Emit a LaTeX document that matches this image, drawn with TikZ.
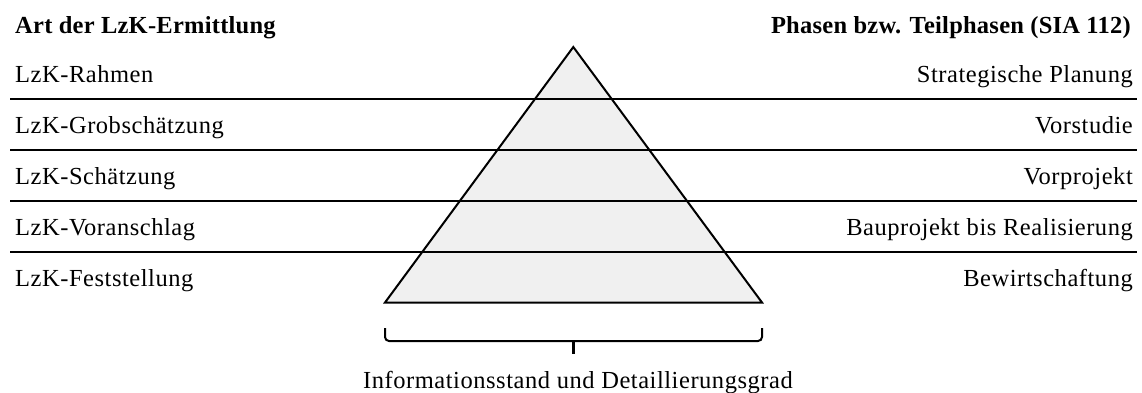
\documentclass[tikz,border=0pt]{standalone}
\usepackage{fontspec}
\setmainfont{Liberation Serif}[LetterSpace=2.2]
\definecolor{pyrfill}{gray}{0.94}
\begin{document}
\begin{tikzpicture}[x=1pt,y=-1pt,
  txt/.style={inner sep=0pt, font=\fontsize{24.5}{29}\selectfont},
  head/.style={txt, font=\fontsize{24.5}{29}\selectfont\bfseries\addfontfeature{LetterSpace=1}},
  rule/.style={line width=2pt},
  pyr/.style={line width=2pt, fill=pyrfill, line join=miter},
  brace/.style={line width=2pt, rounded corners=4pt}]
\useasboundingbox (0,0) rectangle (1142,392);

% pyramid
\coordinate (apex) at (573.3,47);
\coordinate (bl) at (385,302.5);
\coordinate (br) at (762,302.5);
\draw[pyr] (apex) -- (br) -- (bl) -- cycle;

% row separators
\foreach \y [count=\i] in {98.5,149.5,200.5,251.5} {
  \coordinate (l\i) at (10,\y);
  \coordinate (r\i) at (1137,\y);
  \draw[rule] (l\i) -- (r\i);
}

% headings
\node[head, anchor=base west] (hl) at (15,33) {Art der LzK-Ermittlung};
\node[head, anchor=base east] (hr) at (1131,33) {Phasen bzw. Teilphasen (SIA 112)};

% left column
\node[txt, anchor=base west] (a1) at (15,82)  {LzK-Rahmen};
\node[txt, anchor=base west] (a2) at (15,133) {LzK-Grobschätzung};
\node[txt, anchor=base west] (a3) at (15,184) {LzK-Schätzung};
\node[txt, anchor=base west] (a4) at (15,235) {LzK-Voranschlag};
\node[txt, anchor=base west] (a5) at (15,286) {LzK-Feststellung};

% right column
\node[txt, anchor=base east] (b1) at (1133,82)  {Strategische Planung};
\node[txt, anchor=base east] (b2) at (1133,133) {Vorstudie};
\node[txt, anchor=base east] (b3) at (1133,184) {Vorprojekt};
\node[txt, anchor=base east] (b4) at (1133,235) {Bauprojekt bis Realisierung};
\node[txt, anchor=base east] (b5) at (1133,286) {Bewirtschaftung};

% brace under the base
\coordinate (bra) at (385,328);
\coordinate (brb) at (762,328);
\coordinate (brm) at (573.5,341);
\coordinate (brt) at (573.5,354);
\draw[brace] (bra) -- (385,341) -- (762,341) -- (brb);
\draw[line width=2.4pt] (brm) -- (brt);

\node[txt, anchor=base] (info) at (578,388) {Informationsstand und Detaillierungsgrad};
\end{tikzpicture}
\end{document}
